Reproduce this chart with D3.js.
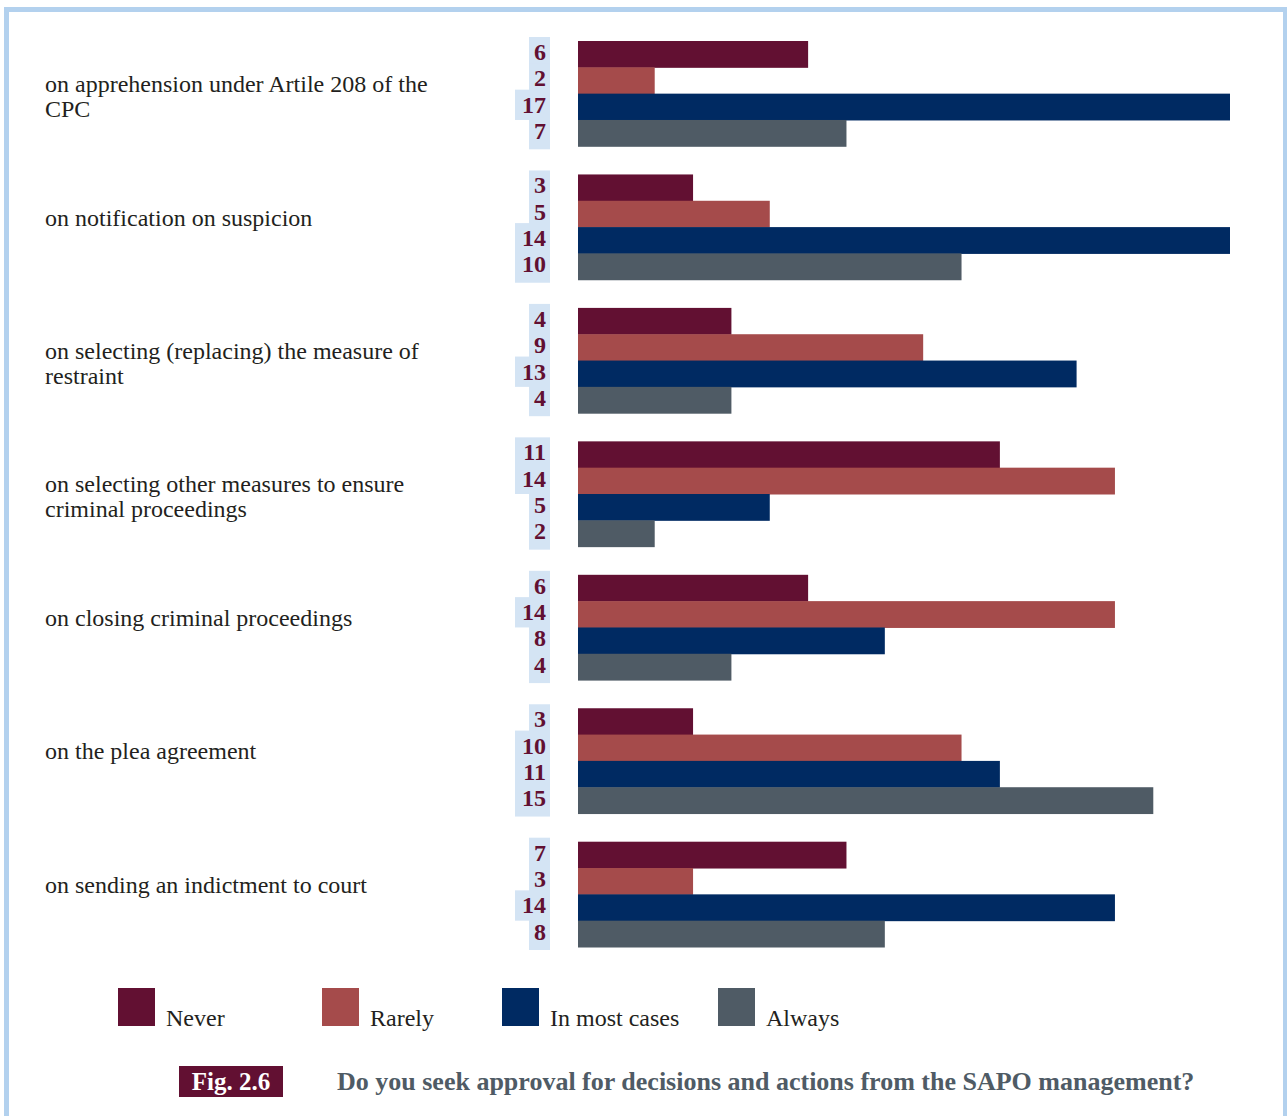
<!DOCTYPE html>
<html><head><meta charset="utf-8">
<script src="https://cdn.jsdelivr.net/npm/d3@7"></script>
<style>html,body{margin:0;padding:0;background:#fff;}svg{display:block;}</style>
</head><body>
<script>
const categories = [
  ["on apprehension under Artile 208 of the", "CPC"],
  ["on notification on suspicion"],
  ["on selecting (replacing) the measure of", "restraint"],
  ["on selecting other measures to ensure", "criminal proceedings"],
  ["on closing criminal proceedings"],
  ["on the plea agreement"],
  ["on sending an indictment to court"]
];
const seriesNames = ["Never", "Rarely", "In most cases", "Always"];
const colors = ["#621032", "#a54b4b", "#002a62", "#4f5b65"];
// bar lengths as drawn in the picture
const never = [6, 3, 4, 11, 6, 3, 7];
const rarely = [2, 5, 9, 14, 14, 10, 3];
const inMostCases = [17, 17, 13, 5, 8, 11, 14];
const always = [7, 10, 4, 2, 4, 15, 8];
// numbers printed next to the bars
const neverLabels = [6, 3, 4, 11, 6, 3, 7];
const rarelyLabels = [2, 5, 9, 14, 14, 10, 3];
const inMostCasesLabels = [17, 14, 13, 5, 8, 11, 14];
const alwaysLabels = [7, 10, 4, 2, 4, 15, 8];
const figLabel = "Fig. 2.6";
const title = "Do you seek approval for decisions and actions from the SAPO management?";

const seriesValues = [never, rarely, inMostCases, always];
const seriesLabels = [neverLabels, rarelyLabels, inMostCasesLabels, alwaysLabels];

const W = 1287, H = 1116;
const serif = "'Liberation Serif', 'DejaVu Serif', serif";
const svg = d3.select("body").append("svg").attr("width", W).attr("height", H);

// frame
svg.append("rect").attr("x", 6.5).attr("y", 9.5).attr("width", 1279).attr("height", 1200)
  .attr("fill", "none").attr("stroke", "#b3d1ee").attr("stroke-width", 5);

const idx = d3.range(categories.length);
const y0 = d3.scaleBand().domain(idx).range([41, 947]).paddingInner(0.211).paddingOuter(0);
const y1 = d3.scaleBand().domain(d3.range(4)).range([0, y0.bandwidth()]);
const x = d3.scaleLinear().domain([0, 17]).range([578, 1230]);

const groups = svg.selectAll("g.grp").data(idx).join("g")
  .attr("class", "grp").attr("transform", i => `translate(0,${y0(i)})`);

// category labels
groups.append("text")
  .attr("font-family", serif).attr("font-size", 24).attr("fill", "#231f20")
  .attr("x", 45).attr("y", y0.bandwidth() / 2 - 1.5)
  .selectAll("tspan").data(i => categories[i]).join("tspan")
  .attr("x", 45).attr("dy", (d, j) => j === 0 ? 0 : 25).text(d => d);

groups.each(function(i) {
  const g = d3.select(this);
  seriesValues.forEach((vals, s) => {
    const lbl = String(seriesLabels[s][i]);
    const bw = lbl.length > 1 ? 35 : 21;
    g.append("rect").attr("x", 550 - bw).attr("y", y1(s) - 4)
      .attr("width", bw).attr("height", y1.bandwidth() + (s === 3 ? 7 : 4))
      .attr("fill", "#d4e4f4");
  });
  seriesValues.forEach((vals, s) => {
    g.append("rect").attr("x", x(0)).attr("y", y1(s))
      .attr("width", x(vals[i]) - x(0)).attr("height", y1.bandwidth() + 0.5)
      .attr("fill", colors[s]);
    g.append("text").attr("x", 546).attr("y", y1(s) + 19)
      .attr("text-anchor", "end").attr("font-family", serif).attr("font-weight", "bold")
      .attr("font-size", 24).attr("fill", "#621032").text(seriesLabels[s][i]);
  });
});

// legend
const legX = [118, 322, 502, 718];
const leg = svg.selectAll("g.leg").data(seriesNames).join("g").attr("class", "leg")
  .attr("transform", (d, i) => `translate(${legX[i]},988)`);
leg.append("rect").attr("width", 37).attr("height", 38).attr("fill", (d, i) => colors[i]);
leg.append("text").attr("x", 48).attr("y", 38).attr("font-family", serif).attr("font-size", 24)
  .attr("fill", "#231f20").text(d => d);

// caption
svg.append("rect").attr("x", 179).attr("y", 1066).attr("width", 104).attr("height", 31).attr("fill", "#621032");
svg.append("text").attr("x", 231).attr("y", 1090).attr("text-anchor", "middle")
  .attr("font-family", serif).attr("font-weight", "bold").attr("font-size", 25).attr("fill", "#fff").text(figLabel);
svg.append("text").attr("x", 337).attr("y", 1090)
  .attr("font-family", serif).attr("font-weight", "bold").attr("font-size", 26).attr("fill", "#4f5b65").text(title);
</script>
</body></html>
